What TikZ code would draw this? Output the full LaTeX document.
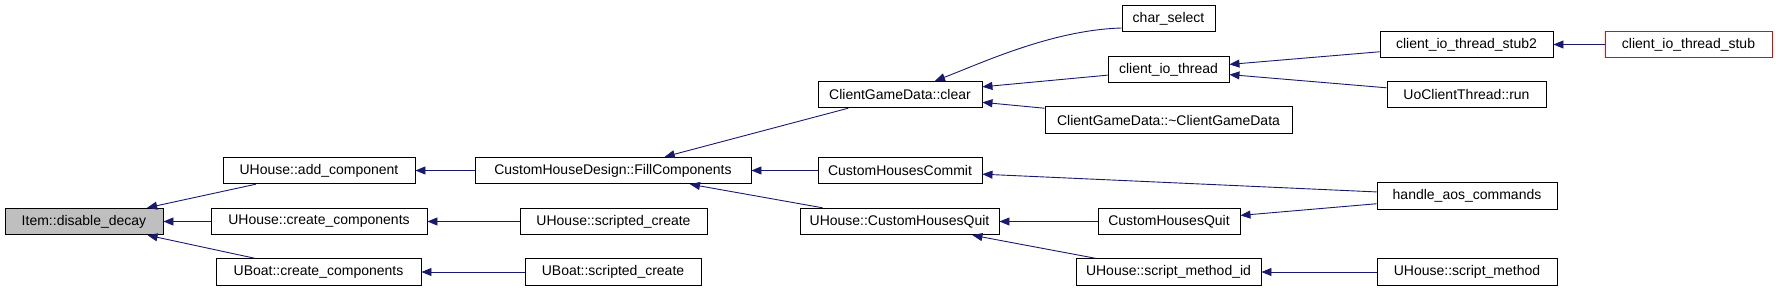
\documentclass[tikz,border=0pt]{standalone}
\usepackage{fontspec}
\setmainfont{Liberation Sans}
\usetikzlibrary{arrows.meta}
\definecolor{edgeblue}{HTML}{191970}
\definecolor{rootgray}{HTML}{BFBFBF}

\begin{document}
\begin{tikzpicture}[x=1pt,y=-1pt,font=\fontsize{14}{16}\selectfont,
  fn/.style={draw=black,line width=0.9pt,fill=white,inner sep=0pt,minimum height=26.5pt,align=center},
  root/.style={fn,fill=rootgray},
  ext/.style={fn,draw=red},
  call/.style={-{Triangle[length=10pt,width=8pt]},edgeblue,line width=0.9pt}]
\useasboundingbox (0,0) rectangle (1776,291);

% the function itself and its direct callers
\node[root,minimum width=158pt] (decay) at (84,221.5) {Item::disable\_decay};
\node[fn,minimum width=192pt] (addcomp) at (319,170.5) {UHouse::add\_component};
\node[fn,minimum width=216pt] (hcreate) at (319,221.5) {UHouse::create\_components};
\node[fn,minimum width=205pt] (bcreate) at (318.5,272) {UBoat::create\_components};
% second column
\node[fn,minimum width=276pt] (fill) at (613,170.5) {CustomHouseDesign::FillComponents};
\node[fn,minimum width=187pt] (hscripted) at (613.5,221.5) {UHouse::scripted\_create};
\node[fn,minimum width=176pt] (bscripted) at (613,272) {UBoat::scripted\_create};
% third column
\node[fn,minimum width=164pt] (gclear) at (900,94.5) {ClientGameData::clear};
\node[fn,minimum width=164pt] (commit) at (900,170.5) {CustomHousesCommit};
\node[fn,minimum width=199pt] (hquit) at (899.5,221.5) {UHouse::CustomHousesQuit};
% fourth column
\node[fn,minimum width=93pt] (charsel) at (1168.5,18.5) {char\_select};
\node[fn,minimum width=121pt] (iothread) at (1168.5,69.5) {client\_io\_thread};
\node[fn,minimum width=247pt] (dtor) at (1168.5,120) {ClientGameData::\textasciitilde ClientGameData};
\node[fn,minimum width=142pt] (quit) at (1169,221.5) {CustomHousesQuit};
\node[fn,minimum width=185pt] (methodid) at (1168.5,272) {UHouse::script\_method\_id};
% fifth and sixth column
\node[fn,minimum width=173pt] (stub2) at (1466.5,44.5) {client\_io\_thread\_stub2};
\node[ext,minimum width=167pt] (stub) at (1688.5,44.5) {client\_io\_thread\_stub};
\node[fn,minimum width=159pt] (run) at (1466.5,94.5) {UoClientThread::run};
\node[fn,minimum width=180pt] (aos) at (1467,196) {handle\_aos\_commands};
\node[fn,minimum width=180pt] (method) at (1467,272) {UHouse::script\_method};

% callers point back to callees
\draw[call] (addcomp) -- (decay);
\draw[call] (hcreate) -- (decay);
\draw[call] (bcreate) -- (decay);
\draw[call] (fill) -- (addcomp);
\draw[call] (hscripted) -- (hcreate);
\draw[call] (bscripted) -- (bcreate);
\draw[call] (gclear) -- (fill);
\draw[call] (commit) -- (fill);
\draw[call] (hquit) -- (fill);
\draw[call] ([yshift=-9.5pt]charsel.west) .. controls +(-70,2) and +(45,-17) .. ([xshift=35pt]gclear.north);
\draw[call] (iothread) -- (gclear);
\draw[call] (dtor) -- (gclear);
\draw[call] (stub2) -- (iothread);
\draw[call] (run) -- (iothread);
\draw[call] (stub) -- (stub2);
\draw[call] (aos) -- (commit);
\draw[call] (aos) -- (quit);
\draw[call] (quit) -- (hquit);
\draw[call] (methodid) -- (hquit);
\draw[call] (method) -- (methodid);
\end{tikzpicture}
\end{document}
